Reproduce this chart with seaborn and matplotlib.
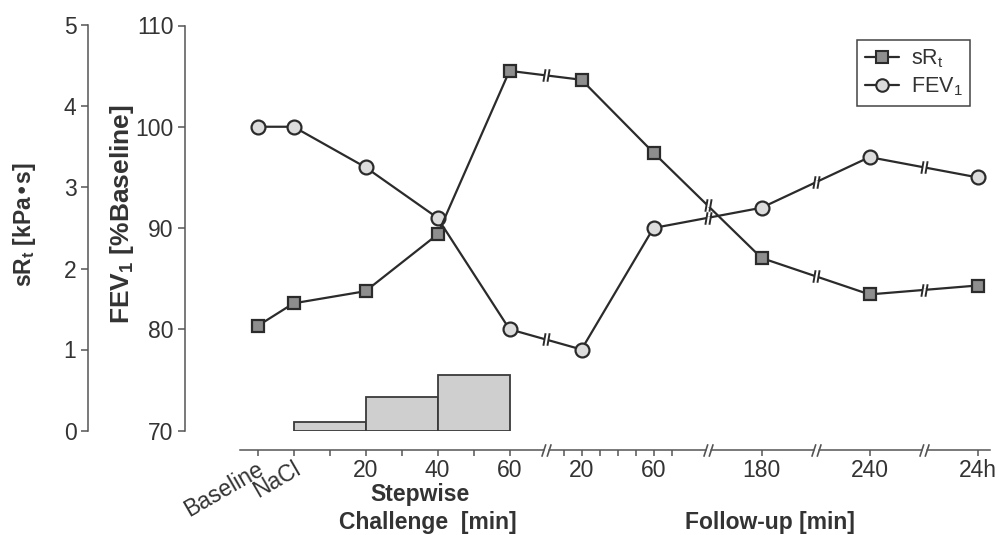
import numpy as np
import pandas as pd
import matplotlib
matplotlib.use("Agg")
import matplotlib.pyplot as plt
import matplotlib.transforms as mtransforms
from matplotlib.path import Path
from matplotlib.lines import Line2D
import seaborn as sns

# ---------------- data ----------------
tick_labels = ["Baseline", "NaCl", "20", "40", "60", "20", "60", "180", "240", "24h"]
x_pos = [0, 1, 3, 5, 7, 9, 11, 14, 17, 20]          # positions on the broken time axis
srt = [1.29, 1.57, 1.72, 2.42, 4.44, 4.33, 3.43, 2.13, 1.68, 1.79]   # kPa*s
fev1 = [100, 100, 96, 91, 80, 78, 90, 92, 97, 95]                    # % baseline
minor_ticks = [2, 4, 6, 8.5, 9.5, 10, 10.5, 11.5]
break_pos = [8, 12.5, 15.5, 18.5]
step_left = [1, 3, 5]
step_width = 2
step_height = [0.85, 3.3, 5.5]   # height of challenge steps above FEV1 = 70

# ---------------- style ----------------
sns.set_style("white")
plt.rcParams["font.family"] = ["Liberation Sans", "DejaVu Sans"]
plt.rcParams["mathtext.default"] = "regular"

LINE = "#2b2b2b"
AX = "#555555"
TXT = "#333333"
px = 72 / 100.0  # points per pixel at dpi 100

fig = plt.figure(figsize=(9.99, 5.35), dpi=100)
L, R, T, B = 239.5, 990.1, 25.5, 430.5
ax = fig.add_axes([L / 999, (535 - B) / 535, (R - L) / 999, (B - T) / 535])
ax.set_xlim(-0.5, 20.35)
ax.set_ylim(70, 110)
ax2 = ax.twinx()
ax2.set_ylim(0, 5)

# challenge steps
ax.bar(step_left, step_height, width=step_width, bottom=70, align="edge",
       color="#cfcfcf", edgecolor="#3a3a3a", linewidth=1.3, zorder=2)

# data lines
df = pd.DataFrame({"x": x_pos, "srt": srt, "fev1": fev1})
sns.lineplot(data=df, x="x", y="fev1", ax=ax, color=LINE, linewidth=1.6,
             marker="o", markersize=10, markerfacecolor="#dcdcdc",
             markeredgecolor=LINE, markeredgewidth=1.6, zorder=3)
sns.lineplot(data=df, x="x", y="srt", ax=ax2, color=LINE, linewidth=1.6,
             marker="s", markersize=9.3, markerfacecolor="#8e8e8e",
             markeredgecolor=LINE, markeredgewidth=1.6, zorder=3)

# break marks on the lines
brk = Path([(-0.5, -1), (-0.15, 1), (0.15, -1), (0.5, 1)],
           [Path.MOVETO, Path.LINETO, Path.MOVETO, Path.LINETO])
for a, vals in ((ax, fev1), (ax2, srt)):
    yb = np.interp(break_pos, x_pos, vals)
    a.plot(break_pos, yb, ls="none", marker="s", markersize=3.2,
           markerfacecolor="white", markeredgecolor="none", zorder=5)
    a.plot(break_pos, yb, ls="none", marker=brk, markersize=9,
           markerfacecolor="none", markeredgecolor=LINE, markeredgewidth=1.4, zorder=6)

# spines
for s in ("top", "right"):
    ax.spines[s].set_visible(False)
ax.spines["left"].set_position(("outward", 55 * px))
ax.spines["bottom"].set_position(("outward", 19 * px))
for s in ("top", "right", "bottom"):
    ax2.spines[s].set_visible(False)
ax2.spines["left"].set_visible(True)
ax2.spines["left"].set_position(("outward", 152 * px))
ax2.yaxis.set_ticks_position("left")
ax2.yaxis.set_label_position("left")
for a in (ax, ax2):
    for s in a.spines.values():
        s.set_color(AX)
        s.set_linewidth(1.1)

ax.set_yticks([70, 80, 90, 100, 110])
ax2.set_yticks([0, 1, 2, 3, 4, 5])
for a in (ax, ax2):
    a.tick_params(axis="y", left=True, right=False, direction="out", length=5,
                  width=1.1, color=AX, labelsize=16.5, labelcolor=TXT, pad=3)
ax.set_xticks(x_pos)
ax.set_xticks(minor_ticks, minor=True)
ax.set_xticklabels(tick_labels)
ax.tick_params(axis="x", which="both", bottom=True, top=False, direction="out",
               length=4, width=1.1, color=AX, labelsize=16.5, labelcolor=TXT, pad=3)
shift = mtransforms.ScaledTranslation(-1 / 100, 2 / 100, fig.dpi_scale_trans)
for lab in ax.get_xticklabels()[:2]:
    lab.set_rotation(30)
    lab.set_ha("right")
    lab.set_va("top")
    lab.set_rotation_mode("anchor")
    lab.set_transform(lab.get_transform() + shift)
ax.set_xlabel("")
ax.set_ylabel("")
ax2.set_ylabel("")

# axis breaks on the x axis line
abrk = Path([(-0.75, -1), (-0.1, 1), (0.1, -1), (0.75, 1)],
            [Path.MOVETO, Path.LINETO, Path.MOVETO, Path.LINETO])
tr = mtransforms.offset_copy(ax.get_xaxis_transform(), fig=fig, x=0, y=-19 * px, units="points")
for xb in break_pos:
    ax.plot([xb], [0], transform=tr, ls="none", marker="s", markersize=3.5,
            markerfacecolor="white", markeredgecolor="none", clip_on=False, zorder=6)
    ax.plot([xb], [0], transform=tr, ls="none", marker=abrk, markersize=9,
            markerfacecolor="none", markeredgecolor=AX, markeredgewidth=1.2,
            clip_on=False, zorder=7)

# axis titles
fig.text(24 / 999, 1 - 225 / 535, "sR$_t$ [kPa•s]", rotation=90, ha="center", va="center",
         fontsize=16.5, fontweight="bold", color=TXT)
fig.text(122 / 999, 1 - 214 / 535, "FEV$_1$ [%Baseline]", rotation=90, ha="center", va="center",
         fontsize=19, fontweight="bold", color=TXT)
fig.text(420 / 999, 1 - 494 / 535, "Stepwise", ha="center", va="center",
         fontsize=16.5, fontweight="bold", color=TXT)
fig.text(428 / 999, 1 - 522 / 535, "Challenge  [min]", ha="center", va="center",
         fontsize=16.5, fontweight="bold", color=TXT)
fig.text(770 / 999, 1 - 522 / 535, "Follow-up [min]", ha="center", va="center",
         fontsize=16.5, fontweight="bold", color=TXT)

# legend
h1 = Line2D([], [], color=LINE, linewidth=1.6, marker="s", markersize=8,
            markerfacecolor="#8e8e8e", markeredgecolor=LINE, markeredgewidth=1.5)
h2 = Line2D([], [], color=LINE, linewidth=1.6, marker="o", markersize=9,
            markerfacecolor="#dcdcdc", markeredgecolor=LINE, markeredgewidth=1.5)
leg = ax2.legend([h1, h2], ["sR$_t$", "FEV$_1$"], loc="upper right",
                 bbox_to_anchor=((970 - L) / (R - L), 1 - (40 - T) / (B - T)),
                 borderaxespad=0, fontsize=15.5, frameon=True, fancybox=False,
                 framealpha=1, edgecolor="#444444", handlelength=1.6,
                 handletextpad=0.55, labelspacing=0.25, borderpad=0.35)
leg.get_frame().set_linewidth(1.1)
for t in leg.get_texts():
    t.set_color(TXT)

fig.savefig("out.png", dpi=100)
